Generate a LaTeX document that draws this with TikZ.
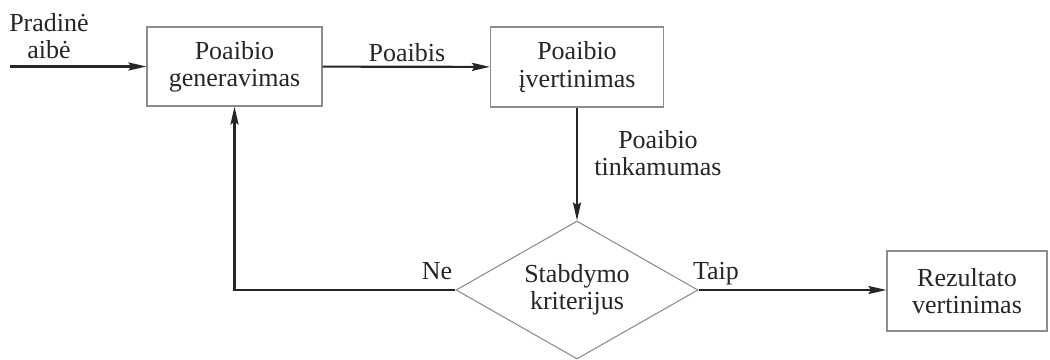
\documentclass[tikz,border=0pt]{standalone}
\usepackage{fontspec}
\setmainfont{Liberation Serif}
\usetikzlibrary{shapes.geometric,arrows.meta}

\begin{document}
\begin{tikzpicture}[x=0.75pt,y=-0.75pt,
  every node/.style={font=\fontsize{19.5}{20.5}\selectfont, text=black!85, align=center},
  block/.style={draw=black!45, line width=0.8pt, inner sep=0pt},
  decision/.style={diamond, draw=black!45, line width=0.8pt, inner sep=0pt,
    aspect=1.75, minimum width=181.5pt, minimum height=103.5pt},
  flow/.style={draw=black!85, line width=1.6pt,
    -{Stealth[length=13.5pt, width=6pt, inset=2pt]}},
  tag/.style={inner sep=0pt}
]
\useasboundingbox[fill=white] (0,0) rectangle (1050,360);

% process blocks
\node[block, minimum width=131.25pt, minimum height=59.25pt] (gen) at (234.5,66.5) {Poaibio\\generavimas};
\node[block, minimum width=129.75pt, minimum height=60pt] (eval) at (577,67) {Poaibio\\įvertinimas};
\node[decision] (stop) at (577,290) {Stabdymo\\kriterijus};
\node[block, minimum width=120pt, minimum height=60pt] (res) at (967,291) {Rezultato\\vertinimas};

% input
\coordinate (src) at (10,66.5);

% connectors
\draw[flow] (src) -- (gen);
\draw[flow] (gen) -- (eval);
\draw[flow] (eval) -- (stop);
\draw[flow] (stop) -- (res.west |- stop.east);
\draw[flow] (stop.west) -| (gen.south);

% labels
\node[tag] (lin) at (49,36) {Pradinė\\aibė};
\node[tag, anchor=base] (lsub) at (407,62) {Poaibis};
\node[tag] (lfit) at (658,153) {Poaibio\\tinkamumas};
\node[tag, anchor=base] (lno) at (437,279) {Ne};
\node[tag, anchor=base] (lyes) at (716,279) {Taip};
\end{tikzpicture}
\end{document}
